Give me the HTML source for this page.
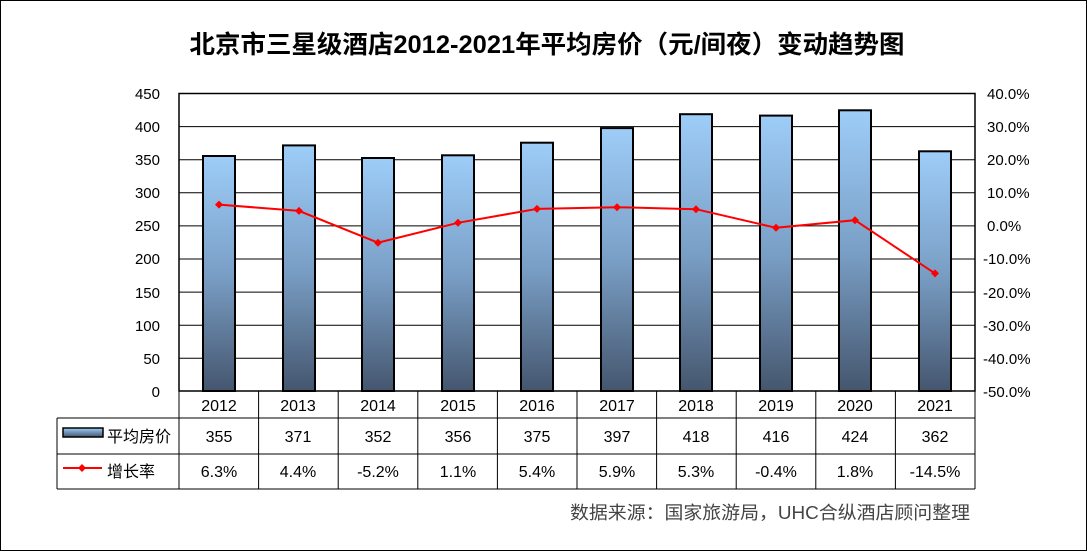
<!DOCTYPE html><html><head><meta charset="utf-8"><style>body{margin:0;background:#fff}svg text{font-family:"Liberation Sans","Noto Sans CJK SC",sans-serif}</style></head><body>
<svg width="1087" height="551" xmlns="http://www.w3.org/2000/svg">
<defs><linearGradient id="g" x1="0" y1="0" x2="0" y2="1"><stop offset="0" stop-color="#9dcdf8"/><stop offset="0.5" stop-color="#7a9fc6"/><stop offset="1" stop-color="#45566e"/></linearGradient>
<linearGradient id="lg" x1="0" y1="0" x2="0" y2="1"><stop offset="0" stop-color="#9dcdf8"/><stop offset="1" stop-color="#45566e"/></linearGradient></defs>
<rect x="0.5" y="0.5" width="1086" height="550" fill="#fff" stroke="#000"/>
<text x="547" y="53" font-size="25" font-weight="bold" text-anchor="middle" textLength="715" lengthAdjust="spacingAndGlyphs">北京市三星级酒店2012-2021年平均房价（元/间夜）变动趋势图</text>
<g stroke="#000" stroke-width="1">
<line x1="179" y1="93.5" x2="975" y2="93.5"/><line x1="179" y1="126.6" x2="975" y2="126.6"/><line x1="179" y1="159.7" x2="975" y2="159.7"/><line x1="179" y1="192.8" x2="975" y2="192.8"/><line x1="179" y1="225.9" x2="975" y2="225.9"/><line x1="179" y1="259" x2="975" y2="259"/><line x1="179" y1="292.1" x2="975" y2="292.1"/><line x1="179" y1="325.2" x2="975" y2="325.2"/><line x1="179" y1="358.3" x2="975" y2="358.3"/>
</g>
<rect x="179" y="93.5" width="796" height="297.5" fill="none" stroke="#000" stroke-width="1.5"/>
<g fill="url(#g)" stroke="#000" stroke-width="2">
<rect x="203" y="156" width="32" height="235"/><rect x="283" y="145.4" width="32" height="245.6"/><rect x="362" y="158" width="32" height="233"/><rect x="442" y="155.3" width="32" height="235.7"/><rect x="521" y="142.7" width="32" height="248.3"/><rect x="601" y="128.1" width="32" height="262.9"/><rect x="680" y="114.2" width="32" height="276.8"/><rect x="760" y="115.6" width="32" height="275.4"/><rect x="839" y="110.3" width="32" height="280.7"/><rect x="919" y="151.3" width="32" height="239.7"/>
</g>
<polyline fill="none" stroke="#f00" stroke-width="2" points="219,204.6 299,210.9 378,242.7 458,222.8 537,208.9 617,207.2 696,209.2 776,227.8 855,220.2 935,273.4"/>
<g fill="#f00"><path d="M219,200.6l4,4-4,4-4-4z"/><path d="M299,206.9l4,4-4,4-4-4z"/><path d="M378,238.7l4,4-4,4-4-4z"/><path d="M458,218.8l4,4-4,4-4-4z"/><path d="M537,204.9l4,4-4,4-4-4z"/><path d="M617,203.2l4,4-4,4-4-4z"/><path d="M696,205.2l4,4-4,4-4-4z"/><path d="M776,223.8l4,4-4,4-4-4z"/><path d="M855,216.2l4,4-4,4-4-4z"/><path d="M935,269.4l4,4-4,4-4-4z"/></g>
<g font-size="15" text-anchor="end">
<text x="160" y="99">450</text><text x="160" y="132">400</text><text x="160" y="165">350</text><text x="160" y="198">300</text><text x="160" y="231">250</text><text x="160" y="264">200</text><text x="160" y="298">150</text><text x="160" y="331">100</text><text x="160" y="364">50</text><text x="160" y="397">0</text>
</g>
<g font-size="15" text-anchor="start">
<text x="987" y="99">40.0%</text><text x="987" y="132">30.0%</text><text x="987" y="165">20.0%</text><text x="987" y="198">10.0%</text><text x="987" y="231">0.0%</text><text x="983" y="264">-10.0%</text><text x="983" y="298">-20.0%</text><text x="983" y="331">-30.0%</text><text x="983" y="364">-40.0%</text><text x="983" y="397">-50.0%</text>
</g>
<g stroke="#000" stroke-width="1" fill="none">
<line x1="57" y1="418" x2="975" y2="418"/><line x1="57" y1="454" x2="975" y2="454"/><line x1="57" y1="489" x2="975" y2="489"/>
<line x1="57" y1="418" x2="57" y2="489"/><line x1="975" y1="391" x2="975" y2="489"/>
<line x1="179" y1="391" x2="179" y2="489"/><line x1="258.6" y1="391" x2="258.6" y2="489"/><line x1="338.2" y1="391" x2="338.2" y2="489"/><line x1="417.8" y1="391" x2="417.8" y2="489"/><line x1="497.4" y1="391" x2="497.4" y2="489"/><line x1="577" y1="391" x2="577" y2="489"/><line x1="656.6" y1="391" x2="656.6" y2="489"/><line x1="736.2" y1="391" x2="736.2" y2="489"/><line x1="815.8" y1="391" x2="815.8" y2="489"/><line x1="895.4" y1="391" x2="895.4" y2="489"/>
</g>
<rect x="63" y="428" width="40" height="9" fill="url(#lg)" stroke="#000" stroke-width="1.5"/>
<line x1="63" y1="468" x2="102" y2="468" stroke="#f00" stroke-width="2"/><path d="M82,464l4,4-4,4-4-4z" fill="#f00"/>
<g font-size="16"><text x="107" y="442">平均房价</text><text x="107" y="477">增长率</text></g>
<g font-size="16" text-anchor="middle">
<text x="219" y="411">2012</text><text x="298" y="411">2013</text><text x="378" y="411">2014</text><text x="458" y="411">2015</text><text x="537" y="411">2016</text><text x="617" y="411">2017</text><text x="696" y="411">2018</text><text x="776" y="411">2019</text><text x="855" y="411">2020</text><text x="935" y="411">2021</text>
<text x="219" y="442">355</text><text x="298" y="442">371</text><text x="378" y="442">352</text><text x="458" y="442">356</text><text x="537" y="442">375</text><text x="617" y="442">397</text><text x="696" y="442">418</text><text x="776" y="442">416</text><text x="855" y="442">424</text><text x="935" y="442">362</text>
<text x="219" y="477">6.3%</text><text x="298" y="477">4.4%</text><text x="378" y="477">-5.2%</text><text x="458" y="477">1.1%</text><text x="537" y="477">5.4%</text><text x="617" y="477">5.9%</text><text x="696" y="477">5.3%</text><text x="776" y="477">-0.4%</text><text x="855" y="477">1.8%</text><text x="935" y="477">-14.5%</text>
</g>
<text x="970" y="519" font-size="18" fill="#444" text-anchor="end" textLength="400" lengthAdjust="spacingAndGlyphs">数据来源：国家旅游局，UHC合纵酒店顾问整理</text>
</svg></body></html>
